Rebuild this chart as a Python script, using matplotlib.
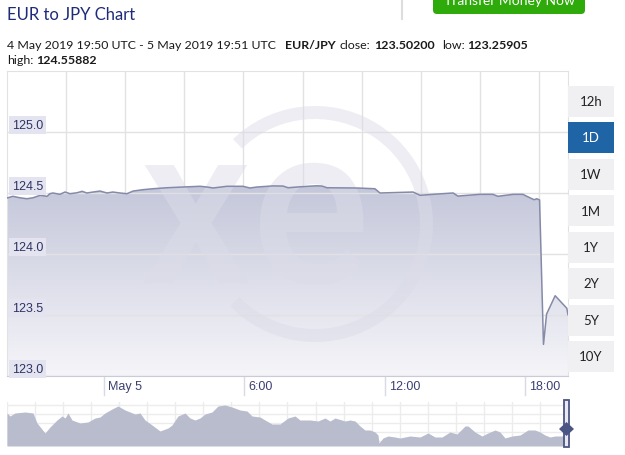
import matplotlib
matplotlib.use("Agg")
import matplotlib.pyplot as plt
import matplotlib.dates as mdates
import matplotlib.transforms as mtransforms
from matplotlib.colors import LinearSegmentedColormap
from matplotlib.lines import Line2D
from matplotlib.patches import FancyBboxPatch, Polygon, Rectangle, Wedge
import numpy as np
import pandas as pd

# EUR/JPY, 4 May 2019 19:50 UTC - 5 May 2019 19:51 UTC
TIMES = [
    "2019-05-04 19:50", "2019-05-04 20:05", "2019-05-04 20:23", "2019-05-04 20:41",
    "2019-05-04 20:57", "2019-05-04 21:15", "2019-05-04 21:33", "2019-05-04 21:40",
    "2019-05-04 21:48", "2019-05-04 22:06", "2019-05-04 22:19", "2019-05-04 22:32",
    "2019-05-04 22:50", "2019-05-04 23:03", "2019-05-04 23:15", "2019-05-04 23:31",
    "2019-05-04 23:49", "2019-05-05 00:07", "2019-05-05 00:22", "2019-05-05 00:40",
    "2019-05-05 00:58", "2019-05-05 01:14", "2019-05-05 01:39", "2019-05-05 02:05",
    "2019-05-05 02:41", "2019-05-05 03:22", "2019-05-05 04:06", "2019-05-05 04:24",
    "2019-05-05 04:39", "2019-05-05 05:15", "2019-05-05 05:56", "2019-05-05 06:14",
    "2019-05-05 06:32", "2019-05-05 07:13", "2019-05-05 07:39", "2019-05-05 07:52",
    "2019-05-05 08:15", "2019-05-05 08:48", "2019-05-05 09:06", "2019-05-05 09:19",
    "2019-05-05 09:32", "2019-05-05 10:49", "2019-05-05 11:35", "2019-05-05 11:48",
    "2019-05-05 13:13", "2019-05-05 13:31", "2019-05-05 14:04", "2019-05-05 14:56",
    "2019-05-05 15:08", "2019-05-05 16:05", "2019-05-05 16:38", "2019-05-05 16:51",
    "2019-05-05 17:30", "2019-05-05 17:55", "2019-05-05 18:13", "2019-05-05 18:24",
    "2019-05-05 18:31", "2019-05-05 18:38", "2019-05-05 18:48", "2019-05-05 18:56",
    "2019-05-05 19:18", "2019-05-05 19:48", "2019-05-05 19:51",
]
RATES = [
    124.459, 124.473, 124.461, 124.453, 124.461, 124.481, 124.473, 124.494,
    124.500, 124.489, 124.508, 124.494, 124.502, 124.514, 124.500, 124.508,
    124.516, 124.500, 124.508, 124.500, 124.494, 124.516, 124.527, 124.535,
    124.543, 124.549, 124.555, 124.549, 124.541, 124.555, 124.555, 124.541,
    124.549, 124.558, 124.557, 124.543, 124.549, 124.556, 124.559, 124.557,
    124.543, 124.541, 124.535, 124.500, 124.508, 124.481, 124.489, 124.500,
    124.475, 124.489, 124.489, 124.473, 124.489, 124.489, 124.461, 124.445,
    124.453, 124.443, 123.259, 123.508, 123.658, 123.555, 123.502,
]
CLOSE, LOW, HIGH = "123.50200", "123.25905", "124.55882"

X_TICKS = ["2019-05-05 00:00", "2019-05-05 06:00", "2019-05-05 12:00", "2019-05-05 18:00"]
X_TICK_LABELS = ["May 5", "6:00", "12:00", "18:00"]
Y_TICKS = [123.0, 123.5, 124.0, 124.5, 125.0]
RANGE_BUTTONS = ["12h", "1D", "1W", "1M", "1Y", "2Y", "5Y", "10Y"]
ACTIVE_BUTTON = "1D"

# navigator overview series (position along the strip, relative level)
NAV_POS = [0, 3, 8, 18, 26, 30, 38, 43, 50, 55, 58, 61, 65, 73, 81, 88, 93, 98,
           105, 111, 118, 128, 133, 138, 145, 153, 161, 165, 171, 178, 183, 188,
           193, 198, 205, 211, 218, 225, 233, 240, 245, 253, 258, 265, 273, 281,
           288, 293, 303, 311, 318, 323, 328, 338, 343, 348, 353, 358, 363, 368,
           371, 372, 376, 381, 388, 393, 403, 413, 421, 428, 435, 443, 450, 458,
           461, 468, 475, 481, 488, 493, 498, 505, 513, 521, 528, 533, 538, 543,
           548, 553, 559]
NAV_LEVEL = [33, 30, 33, 34, 33, 23, 13, 19, 26, 30, 28, 33, 26, 23, 24, 28, 29, 33,
             37, 40, 36, 32, 33, 26, 21, 15, 18, 21, 30, 33, 28, 26, 28, 32, 34, 40,
             41, 39, 36, 35, 30, 29, 26, 22, 22, 28, 30, 26, 26, 25, 28, 25, 28, 25,
             26, 25, 20, 16, 16, 14, 11, 3, 8, 10, 9, 8, 10, 9, 13, 9, 9, 14, 12, 20,
             20, 14, 10, 13, 16, 14, 8, 10, 11, 16, 16, 14, 11, 9, 10, 10, 10]
assert len(NAV_POS) == len(NAV_LEVEL)

W, H = 625, 456
HEAD_FONT = "Lato"
AXIS_FONT = "Liberation Sans"


def fx(px):
    return px / W


def fy(py):
    return 1 - py / H


fig = plt.figure(figsize=(W / 100, H / 100), dpi=100)
fig.patch.set_facecolor("white")

# ---- header -------------------------------------------------------------
fig.text(fx(7), fy(20), "EUR to JPY Chart", fontsize=12, color="#1d2b7a",
         family=HEAD_FONT, va="baseline")
pieces = [
    (7, 49, "4 May 2019 19:50 UTC - 5 May 2019 19:51 UTC", "normal"),
    (285, 49, "EUR/JPY", "bold"),
    (340, 49, "close:", "normal"),
    (374, 49, CLOSE, "bold"),
    (442, 49, "low:", "normal"),
    (467, 49, LOW, "bold"),
    (7, 64, "high:", "normal"),
    (36, 64, HIGH, "bold"),
]
for px, py, s, w in pieces:
    fig.text(fx(px), fy(py), s, fontsize=8.9, color="#1a1a1a", weight=w,
             family=HEAD_FONT, va="baseline")

inch = fig.dpi_scale_trans
fig.add_artist(FancyBboxPatch((4.33, (H - 15) / 100), 1.52, 0.3,
                              boxstyle="round,pad=0,rounding_size=0.04",
                              transform=inch, fc="#2faa0b", ec="none"))
fig.text(5.09, (H - 5) / 100, "Transfer Money Now", transform=inch, fontsize=10,
         color="white", ha="center", va="baseline", family=HEAD_FONT)
fig.add_artist(Line2D([fx(402), fx(402)], [fy(0), fy(20)], color="#dddddd", lw=1.5))

# ---- main chart ---------------------------------------------------------
ax = fig.add_axes([fx(7), fy(377), fx(568) - fx(7), fy(72) - fy(377)])
t = mdates.date2num(pd.to_datetime(TIMES))
rates = np.array(RATES)
y0, y1 = 123.0, 125.5

poly = ax.fill_between(t, rates, y0, facecolor="none", edgecolor="none")
cmap = LinearSegmentedColormap.from_list("fill", ["#c4c7da", "#f5f5f9"])
grad = np.linspace(0, 1, 256).reshape(-1, 1)
im = ax.imshow(grad, extent=[t[0], t[-1], y0, rates.max()], aspect="auto",
               cmap=cmap, origin="upper", zorder=1)
im.set_clip_path(poly.get_paths()[0], ax.transData)

ax.plot(t, rates, color="#858aa8", lw=1.1, zorder=5)

ax.set_xlim(t[0], t[-1])
ax.set_ylim(y0, y1)
ax.set_xticks([])
ax.set_yticks(Y_TICKS)
ax.tick_params(axis="y", length=0, labelleft=False)
ax.grid(axis="y", color="#e2e2e2", lw=1, zorder=0)
for k in range(1, 10):
    ax.axvline(t[0] + (t[-1] - t[0]) * k * 59.1 / 561, color="#e2e2e2", lw=1, zorder=0)
for side in ("top", "left", "right"):
    ax.spines[side].set_color("#e2e2e2")
ax.spines["bottom"].set_color("#c9cbd9")

# watermark (xe logo): greyish on white, slightly lighter than the fill
wm_color, wm_alpha = "#dcdce8", 0.5
ax.add_patch(Wedge((3.15, (H - 225) / 100), 1.18, -136, 134, width=0.13,
                   transform=inch, fc=wm_color, ec="none", alpha=wm_alpha, zorder=3))
ax.text(1.40, (H - 283) / 100, "xe", transform=inch, fontsize=160, family="Roboto",
        weight="medium", color=wm_color, alpha=wm_alpha, va="baseline", zorder=3)

# y labels in tinted boxes
ylab_tr = mtransforms.offset_copy(ax.get_yaxis_transform(), fig, x=0, y=4, units="dots")
for v in Y_TICKS:
    ax.text(5 / 561, v, f"{v:.1f}", transform=ylab_tr, fontsize=9, color="#2f3363",
            family=AXIS_FONT, va="baseline", zorder=6,
            bbox=dict(boxstyle="square,pad=0.22", fc="#e4e4f0", ec="none"))

# x ticks: long marks below the axis, labels to their right
xt = mdates.date2num(pd.to_datetime(X_TICKS))
xlab_tr = mtransforms.offset_copy(ax.get_xaxis_transform(), fig, x=4, y=0, units="dots")
for xv, lab in zip(xt, X_TICK_LABELS):
    ax.plot([xv, xv], [0, -19 / 305], transform=ax.get_xaxis_transform(),
            color="#d8dae6", lw=1, clip_on=False)
    ax.text(xv, -10 / 305, lab, transform=xlab_tr, fontsize=9, color="#3b4070",
            family=AXIS_FONT, ha="left", va="center")

# range selector buttons
for i, lab in enumerate(RANGE_BUTTONS):
    top = 86.5 + i * 36.5
    active = lab == ACTIVE_BUTTON
    fig.add_artist(Rectangle((fx(568), fy(top + 31)), fx(614) - fx(568), 31 / H,
                             transform=fig.transFigure,
                             fc="#1f65a6" if active else "#f0f0f3", ec="none"))
    fig.text(fx(591), fy(top + 15.5), lab, fontsize=9.5, family=HEAD_FONT,
             color="white" if active else "#222222", ha="center", va="center")

# ---- navigator ----------------------------------------------------------
nav = fig.add_axes([fx(7), fy(447), fx(568) - fx(7), fy(403) - fy(447)])
nav.set_xlim(0, 561)
nav.set_ylim(0, 44)
for gx in np.arange(0, 561, 28.05):
    nav.axvline(gx, color="#ececec", lw=1, zorder=0)
for gy in (5, 14, 23, 32, 41):
    nav.axhline(gy, color="#ececec", lw=1, zorder=0)
nav.fill_between(NAV_POS, NAV_LEVEL, 0, color="#b8bccd", lw=0, zorder=2)
nav.set_xticks([])
nav.set_yticks([])
for s in nav.spines.values():
    s.set_visible(False)
nav.add_patch(Rectangle((557.5, -1), 4.5, 47, fc="#e8e9f0", ec="#4b5583", lw=1.3,
                        clip_on=False, zorder=4))
nav.add_patch(Polygon([(552, 17), (559.5, 24), (567, 17), (559.5, 10)], closed=True,
                      fc="#4b5583", ec="none", clip_on=False, zorder=5))

fig.savefig("out.png", dpi=100)
